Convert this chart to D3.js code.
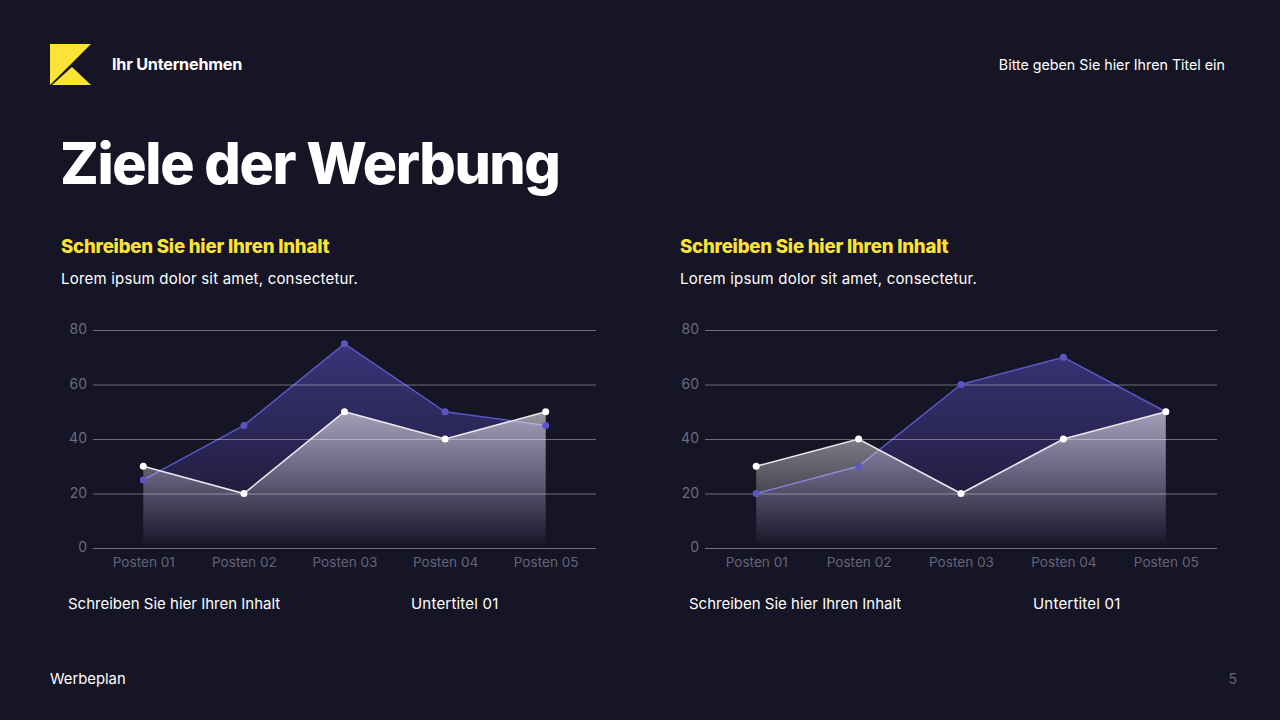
<!DOCTYPE html>
<html>
<head>
  <meta charset="utf-8">
  <title>Ziele der Werbung</title>
  <script src="https://d3js.org/d3.v7.min.js"></script>
  <style>
    html, body { margin: 0; padding: 0; background: #161525; }
    svg { display: block; font-family: Inter, "Noto Sans", sans-serif; }
  </style>
</head>
<body>

<script>
const categories = ['Posten 01', 'Posten 02', 'Posten 03', 'Posten 04', 'Posten 05'];
const yTicks = [0, 20, 40, 60, 80];
const leftPurple = [25, 45, 75, 50, 45];
const leftWhite = [30, 20, 50, 40, 50];
const rightPurple = [20, 30, 60, 70, 50];
const rightWhite = [30, 40, 20, 40, 50];

const width = 1280;
const height = 720;
const yellow = '#fbe337';
const purple = '#5f54c4';

const svg = d3.select('body')
  .append('svg')
  .attr('width', width)
  .attr('height', height);

svg.append('rect')
  .attr('width', width)
  .attr('height', height)
  .attr('fill', '#161525');

const defs = svg.append('defs');

const purpleGrad = defs.append('linearGradient')
  .attr('id', 'purpleFill')
  .attr('gradientUnits', 'userSpaceOnUse')
  .attr('x1', 0).attr('x2', 0).attr('y1', 340).attr('y2', 548);
purpleGrad.append('stop').attr('offset', 0).attr('stop-color', '#5a4ec0').attr('stop-opacity', 0.55);
purpleGrad.append('stop').attr('offset', 0.55).attr('stop-color', '#4a3f9e').attr('stop-opacity', 0.36);
purpleGrad.append('stop').attr('offset', 1).attr('stop-color', '#4a3f9e').attr('stop-opacity', 0);

const whiteGrad = defs.append('linearGradient')
  .attr('id', 'whiteFill')
  .attr('gradientUnits', 'userSpaceOnUse')
  .attr('x1', 0).attr('x2', 0).attr('y1', 410).attr('y2', 546);
whiteGrad.append('stop').attr('offset', 0).attr('stop-color', '#ffffff').attr('stop-opacity', 0.56);
whiteGrad.append('stop').attr('offset', 0.6).attr('stop-color', '#ffffff').attr('stop-opacity', 0.22);
whiteGrad.append('stop').attr('offset', 1).attr('stop-color', '#ffffff').attr('stop-opacity', 0);

// header
svg.append('path')
  .attr('d', 'M50 44H91L50 85Z')
  .attr('fill', yellow);
svg.append('path')
  .attr('d', 'M52 85L72 67L91 85Z')
  .attr('fill', yellow);

function label(x, y, text, size, weight, fill, anchor) {
  return svg.append('text')
    .attr('x', x)
    .attr('y', y)
    .attr('font-size', size)
    .attr('font-weight', weight)
    .attr('fill', fill)
    .attr('text-anchor', anchor || 'start')
    .text(text);
}

label(112, 69.5, 'Ihr Unternehmen', 16.2, 700, '#ffffff').attr('letter-spacing', -0.22);
label(1225, 70, 'Bitte geben Sie hier Ihren Titel ein', 14.25, 400, '#ffffff', 'end');
label(60, 184, 'Ziele der Werbung', 57.3, 800, '#ffffff').attr('letter-spacing', -1.4);
label(50, 684, 'Werbeplan', 14.8, 400, '#ffffff');
label(1237, 684, '5', 14, 400, '#66647a', 'end');

function drawPanel(opts) {
  const x = d3.scalePoint().domain(categories).range([opts.x0, opts.x1]).padding(0.5);
  const y = d3.scaleLinear().domain([0, 80]).range([548, 330]);

  label(opts.textX, 252.5, 'Schreiben Sie hier Ihren Inhalt', 18.6, 800, yellow).attr('letter-spacing', -0.2);
  label(opts.textX, 284, 'Lorem ipsum dolor sit amet, consectetur.', 15, 400, '#ffffff').attr('letter-spacing', 0.2);

  const g = svg.append('g');

  const rows = categories.map((c, i) => ({ c, purple: opts.purple[i], white: opts.white[i] }));

  const area = key => d3.area()
    .x(d => x(d.c))
    .y0(y(0))
    .y1(d => y(d[key]));
  const line = key => d3.line()
    .x(d => x(d.c))
    .y(d => y(d[key]));

  g.append('path').datum(rows).attr('d', area('purple')).attr('fill', 'url(#purpleFill)');
  g.append('path').datum(rows).attr('d', line('purple'))
    .attr('fill', 'none').attr('stroke', purple).attr('stroke-width', 1.5);
  g.append('path').datum(rows).attr('d', area('white')).attr('fill', 'url(#whiteFill)');

  // gridlines sit over the fills, they show through in the original
  const yAxis = d3.axisLeft(y)
    .tickValues(yTicks)
    .tickSize(-(opts.x1 - opts.x0))
    .tickPadding(6);
  const yG = g.append('g')
    .attr('transform', `translate(${opts.x0},0)`)
    .call(yAxis);
  yG.select('.domain').remove();
  yG.selectAll('line').attr('stroke', '#ffffff').attr('stroke-opacity', 0.38).attr('stroke-width', 1.2);
  yG.selectAll('text')
    .attr('font-family', 'Inter, sans-serif')
    .attr('font-size', 14)
    .attr('dy', '0.25em')
    .attr('fill', '#6c6a7e');

  const xAxis = d3.axisBottom(x).tickSize(0).tickPadding(9);
  const xG = g.append('g')
    .attr('transform', 'translate(0,548)')
    .call(xAxis);
  xG.select('.domain').remove();
  xG.selectAll('text')
    .attr('font-family', 'Inter, sans-serif')
    .attr('font-size', 13.6)
    .attr('fill', '#65637a');

  g.append('path').datum(rows).attr('d', line('white'))
    .attr('fill', 'none').attr('stroke', '#e9e8ee').attr('stroke-width', 1.6);

  g.selectAll('.dot-purple')
    .data(rows)
    .enter().append('circle')
      .attr('class', 'dot-purple')
      .attr('cx', d => x(d.c))
      .attr('cy', d => y(d.purple))
      .attr('r', 3.5)
      .attr('fill', purple);

  g.selectAll('.dot-white')
    .data(rows)
    .enter().append('circle')
      .attr('class', 'dot-white')
      .attr('cx', d => x(d.c))
      .attr('cy', d => y(d.white))
      .attr('r', 3.5)
      .attr('fill', '#ffffff');

  label(opts.captionX, 609, 'Schreiben Sie hier Ihren Inhalt', 15, 400, '#ffffff');
  label(opts.subX, 609, 'Untertitel 01', 15, 400, '#ffffff').attr('letter-spacing', 0.2);
}

drawPanel({ x0: 93, x1: 596, textX: 61, captionX: 68, subX: 411, purple: leftPurple, white: leftWhite });
drawPanel({ x0: 705, x1: 1217, textX: 680, captionX: 689, subX: 1033, purple: rightPurple, white: rightWhite });
</script>

</body>
</html>
